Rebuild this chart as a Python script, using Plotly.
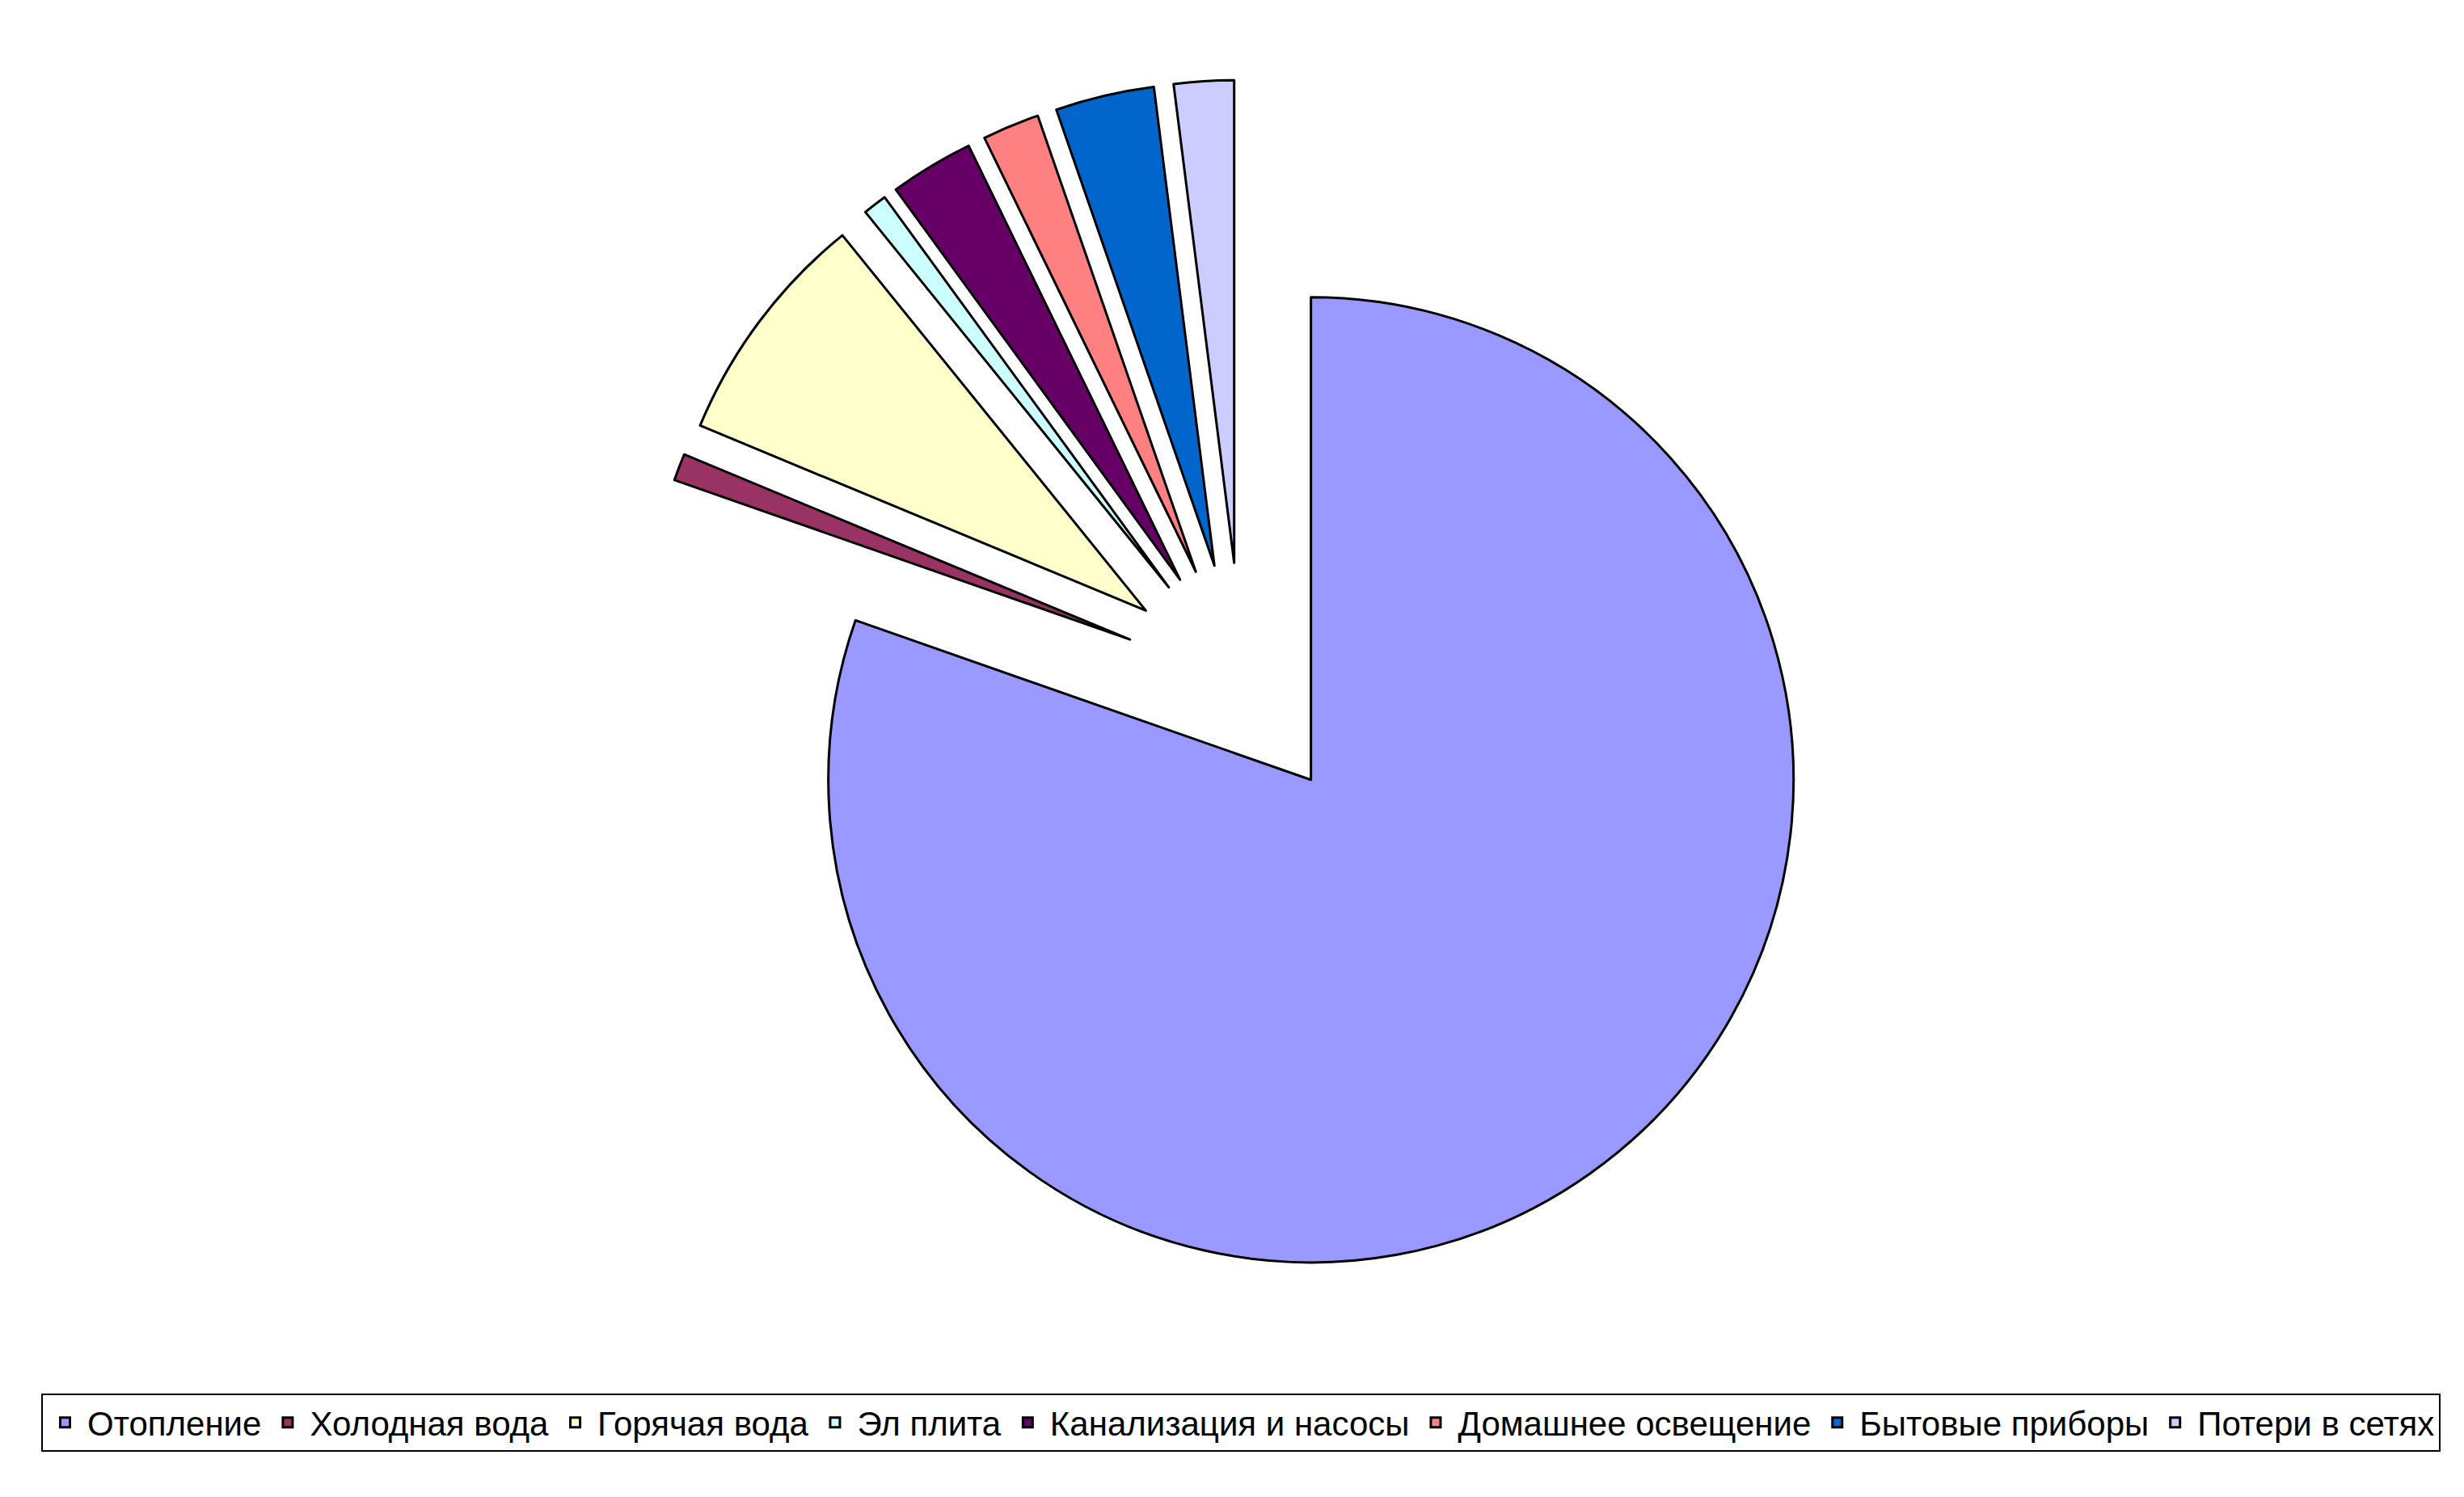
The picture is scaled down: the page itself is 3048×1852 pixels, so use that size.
import plotly.graph_objects as go

labels = ["Отопление", "Холодная вода", "Горячая вода", "Эл плита",
          "Канализация и насосы", "Домашнее освещение", "Бытовые приборы", "Потери в сетях"]
values = [80.2, 0.9, 7.9, 0.8, 2.8, 1.9, 3.3, 2.0]
colors = ["#9999FF", "#993366", "#FFFFCC", "#CCFFFF",
          "#660066", "#FF8080", "#0066CC", "#CCCCFF"]

W, H = 3048, 1852
pull = 0.248
cx, cy, r = 1528, 836, 597
half = r * (1 + pull)

fig = go.Figure(go.Pie(
    labels=labels,
    values=values,
    sort=False,
    direction="clockwise",
    rotation=0,
    pull=[pull] * len(values),
    marker=dict(colors=colors, line=dict(color="black", width=3)),
    textinfo="none",
    hoverinfo="label+percent",
    domain=dict(x=[(cx - half) / W, (cx + half) / W],
                y=[1 - (cy + half) / H, 1 - (cy - half) / H]),
))

fig.update_layout(
    width=W, height=H,
    margin=dict(l=0, r=0, t=0, b=0),
    paper_bgcolor="white",
    plot_bgcolor="white",
    font=dict(family="Liberation Sans, Arial, sans-serif", color="black"),
    legend=dict(
        orientation="h",
        x=1527 / W, xanchor="center",
        y=1 - 1716 / H, yanchor="top",
        font=dict(size=42, family="Liberation Sans, Arial, sans-serif", color="black"),
        bordercolor="black", borderwidth=2,
        bgcolor="white",
        traceorder="normal",
        itemwidth=45,
    ),
)

fig.write_html("out.html")
